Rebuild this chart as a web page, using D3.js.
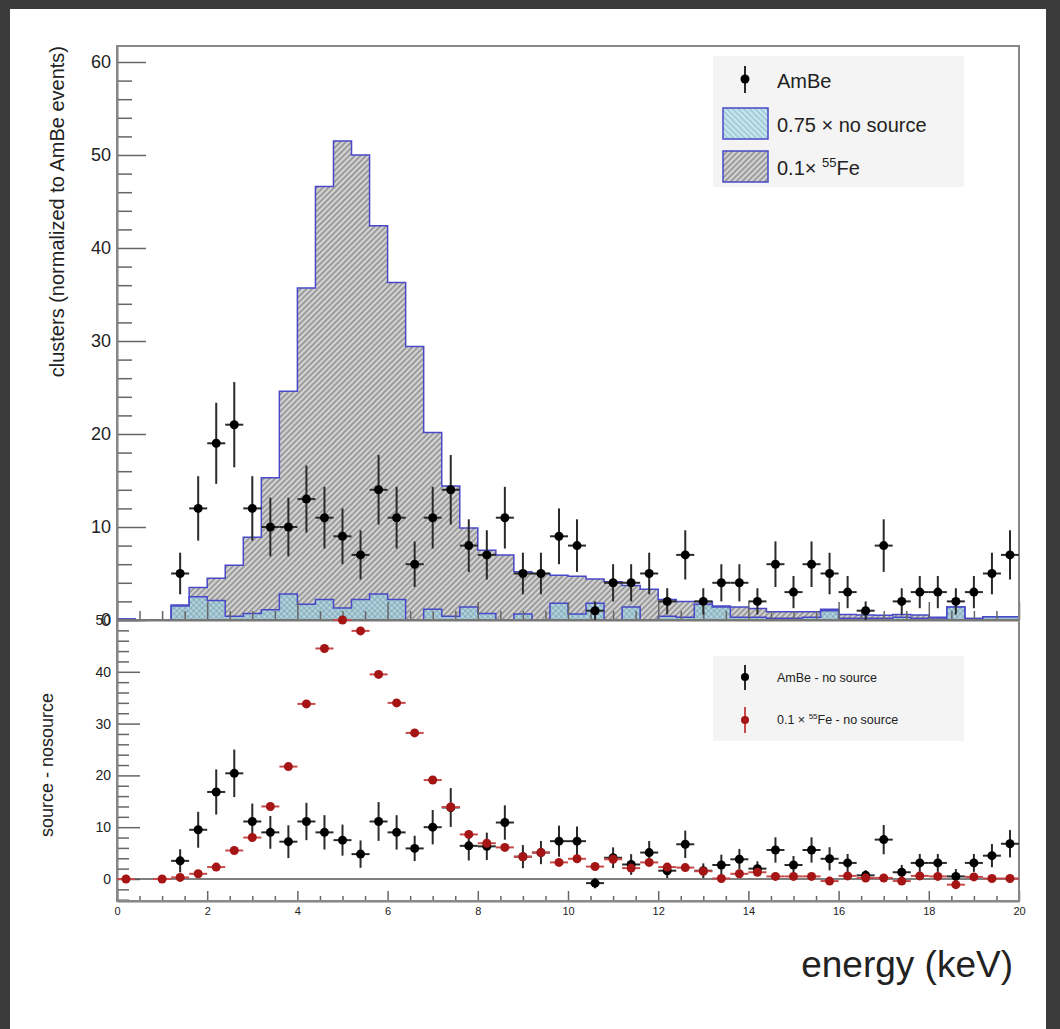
<!DOCTYPE html>
<html>
<head>
<meta charset="utf-8">
<script src="https://cdn.jsdelivr.net/npm/d3@7"></script>
<style>
  body { margin: 0; background: #3b3b3b; }
  svg { display: block; }
  text { font-family: "Liberation Sans", Arial, Helvetica, sans-serif; fill: #222; }
</style>
</head>
<body>
<svg id="drawing_region"></svg>
<script>
// energy histograms, 50 bins of 0.4 keV between 0 and 20 keV
const binWidth = 0.4;
const nBins = 50;

// 0.75 x no source
const noSource = [0.1, 0, 0, 1.5, 2.5, 2.1, 0.4, 0.7, 1.1, 2.8,
                  1.7, 2.2, 1.3, 2.2, 2.8, 2.2, 0, 1.15, 0.4, 1.4,
                  0.7, 0, 0.65, 0, 1.8, 0.65, 1.8, 0, 1.4, 0,
                  0.4, 0.3, 1.7, 1.4, 0.3, 0.3, 0.2, 0.2, 0.3, 1.0,
                  0.2, 0.2, 0.2, 0.3, 0.2, 0.1, 1.4, 0.15, 0.35, 0.35];
// 0.1 x 55Fe (stacked on top of no source)
const fe55 = [0, 0, 0, 0.1, 1.0, 2.4, 5.5, 8.2, 14.2, 21.8,
              34.0, 44.4, 50.2, 47.8, 39.6, 34.1, 29.4, 19.0, 14.0, 8.5,
              6.8, 7.0, 4.55, 5.0, 3.0, 4.05, 2.6, 4.1, 2.3, 3.3,
              1.8, 1.7, 0.3, 0.1, 1.1, 0.95, 0.7, 0.7, 0.6, 0.15,
              0.4, 0.35, 0.3, 0.3, 0.35, 0.2, 0, 0, 0, 0];

// AmBe data points (bin centres)
const ambeEnergy = [1.4, 1.8, 2.2, 2.6, 3.0, 3.4, 3.8, 4.2, 4.6, 5.0,
                    5.4, 5.8, 6.2, 6.6, 7.0, 7.4, 7.8, 8.2, 8.6, 9.0,
                    9.4, 9.8, 10.2, 10.6, 11.0, 11.4, 11.8, 12.2, 12.6, 13.0,
                    13.4, 13.8, 14.2, 14.6, 15.0, 15.4, 15.8, 16.2, 16.6, 17.0,
                    17.4, 17.8, 18.2, 18.6, 19.0, 19.4, 19.8];
const ambeCounts = [5, 12, 19, 21, 12, 10, 10, 13, 11, 9,
                    7, 14, 11, 6, 11, 14, 8, 7, 11, 5,
                    5, 9, 8, 1, 4, 4, 5, 2, 7, 2,
                    4, 4, 2, 6, 3, 6, 5, 3, 1, 8,
                    2, 3, 3, 2, 3, 5, 7];
// AmBe - no source
const ambeSub = [3.5, 9.5, 16.8, 20.4, 11.1, 9.0, 7.2, 11.1, 9.0, 7.5,
                 4.8, 11.1, 9.0, 5.9, 10.0, 13.8, 6.4, 6.3, 10.9, 4.3,
                 5.1, 7.3, 7.3, -0.8, 4.1, 2.8, 5.1, 1.6, 6.7, 1.6,
                 2.7, 3.8, 2.0, 5.6, 2.7, 5.6, 3.9, 3.1, 0.7, 7.6,
                 1.3, 3.1, 3.1, 0.5, 3.1, 4.5, 6.8];
// 0.1 x 55Fe - no source
const feEnergy = [0.2, 1.0, 1.4, 1.8, 2.2, 2.6, 3.0, 3.4, 3.8, 4.2,
                  4.6, 5.0, 5.4, 5.8, 6.2, 6.6, 7.0, 7.4, 7.8, 8.2,
                  8.6, 9.0, 9.4, 9.8, 10.2, 10.6, 11.0, 11.4, 11.8, 12.2,
                  12.6, 13.0, 13.4, 13.8, 14.2, 14.6, 15.0, 15.4, 15.8, 16.2,
                  16.6, 17.0, 17.4, 17.8, 18.2, 18.6, 19.0, 19.4, 19.8];
const feSub = [0, 0, 0.3, 1.0, 2.3, 5.5, 8.0, 14.0, 21.7, 33.8,
               44.5, 50.0, 47.9, 39.5, 34.0, 28.2, 19.1, 13.9, 8.6, 6.9,
               6.1, 4.3, 5.1, 3.2, 3.9, 2.4, 3.8, 2.1, 3.2, 2.3,
               2.2, 1.5, 0.1, 1.0, 1.3, 0.5, 0.5, 0.5, -0.4, 0.6,
               0.2, 0.2, -0.4, 0.6, 0.5, -1.1, 0.4, 0.1, 0.1];
const feSubErr = 0.6;

const xMajor = d3.range(0, 21, 2);
const xMinor = d3.range(0, 20.01, 0.5).filter(v => v % 2 !== 0);
const topMajor = [0, 10, 20, 30, 40, 50, 60];
const topMinor = d3.range(2, 61, 2).filter(v => v % 10 !== 0);
const botMajor = [0, 10, 20, 30, 40, 50];
const botMinor = d3.range(-4, 50, 2).filter(v => v % 10 !== 0);

const W = 1060, H = 1029;
const frameLeft = 117, frameRight = 1019, frameTop = 46, padSplit = 620, frameBottom = 901;

const svg = d3.select('#drawing_region')
    .attr('width', W)
    .attr('height', H);

svg.append('rect').attr('width', W).attr('height', H).attr('fill', '#3b3b3b');
svg.append('rect').attr('x', 10).attr('y', 9).attr('width', 1036).attr('height', H - 9).attr('fill', '#fff');

// hatch patterns
const defs = svg.append('defs');
const pGray = defs.append('pattern')
    .attr('id', 'hatch_gray')
    .attr('patternUnits', 'userSpaceOnUse')
    .attr('width', 4).attr('height', 4)
    .attr('patternTransform', 'rotate(45)');
pGray.append('rect').attr('width', 4).attr('height', 4).attr('fill', '#d4d4d4');
pGray.append('line').attr('x1', 1).attr('y1', 0).attr('x2', 1).attr('y2', 4)
    .attr('stroke', '#8a8a8a').attr('stroke-width', 1.5);

const pBlue = defs.append('pattern')
    .attr('id', 'hatch_blue')
    .attr('patternUnits', 'userSpaceOnUse')
    .attr('width', 4).attr('height', 4)
    .attr('patternTransform', 'rotate(-45)');
pBlue.append('rect').attr('width', 4).attr('height', 4).attr('fill', 'rgba(160,220,240,0.55)');
pBlue.append('line').attr('x1', 1).attr('y1', 0).attr('x2', 1).attr('y2', 4)
    .attr('stroke', 'rgba(90,140,155,0.5)').attr('stroke-width', 1.2);

// scales
const x = d3.scaleLinear().domain([0, 20]).range([frameLeft, frameRight]);
const yTop = d3.scaleLinear().domain([0, 61.72]).range([padSplit, frameTop]);
const yBot = d3.scaleLinear().domain([-4.25, 50]).range([frameBottom, padSplit]);

// ---- upper pad: stacked histograms ----
const stacked = noSource.map((v, i) => v + fe55[i]);
function steps(values) {
    const pts = values.map((v, i) => [i * binWidth, v]);
    pts.push([nBins * binWidth, values[values.length - 1]]);
    return pts;
}
const area = d3.area().curve(d3.curveStepAfter)
    .x(d => x(d[0])).y0(yTop(0)).y1(d => yTop(d[1]));
const line = d3.line().curve(d3.curveStepAfter)
    .x(d => x(d[0])).y(d => yTop(d[1]));

const histColor = '#4848c8';
svg.append('path').attr('d', area(steps(stacked))).attr('fill', 'url(#hatch_gray)');
svg.append('path').attr('d', line(steps(stacked))).attr('fill', 'none')
    .attr('stroke', histColor).attr('stroke-width', 1.5);
svg.append('path').attr('d', area(steps(noSource))).attr('fill', 'url(#hatch_blue)');
svg.append('path').attr('d', line(steps(noSource))).attr('fill', 'none')
    .attr('stroke', histColor).attr('stroke-width', 1.5);

// ---- axes ----
const axisColor = '#666';
function styleAxis(g, fontSize) {
    g.select('.domain').attr('stroke', axisColor).attr('stroke-width', 1.5);
    g.selectAll('.tick line').attr('stroke', axisColor).attr('stroke-width', 1.5);
    g.selectAll('.tick text').attr('fill', '#2a2a2a').attr('font-size', fontSize)
        .attr('font-family', '"Liberation Sans", Arial, sans-serif');
}

// upper pad x axis (no labels)
svg.append('g').attr('transform', `translate(0,${padSplit})`)
    .call(d3.axisBottom(x).tickValues(xMinor).tickSizeInner(-9).tickSizeOuter(0).tickFormat(''))
    .call(g => styleAxis(g, 0));
svg.append('g').attr('transform', `translate(0,${padSplit})`)
    .call(d3.axisBottom(x).tickValues(xMajor).tickSizeInner(-18).tickSizeOuter(0).tickFormat(''))
    .call(g => styleAxis(g, 0));

// upper pad y axis
svg.append('g').attr('transform', `translate(${frameLeft},0)`)
    .call(d3.axisLeft(yTop).tickValues(topMinor).tickSizeInner(-15).tickSizeOuter(0).tickFormat(''))
    .call(g => styleAxis(g, 0));
svg.append('g').attr('transform', `translate(${frameLeft},0)`)
    .call(d3.axisLeft(yTop).tickValues(topMajor).tickSizeInner(-29).tickSizeOuter(0).tickPadding(6))
    .call(g => styleAxis(g, 18));

// lower pad x axis
svg.append('g').attr('transform', `translate(0,${frameBottom})`)
    .call(d3.axisBottom(x).tickValues(xMinor).tickSizeInner(-5).tickSizeOuter(0).tickFormat(''))
    .call(g => styleAxis(g, 0));
svg.append('g').attr('transform', `translate(0,${frameBottom})`)
    .call(d3.axisBottom(x).tickValues(xMajor).tickSizeInner(-10).tickSizeOuter(0).tickPadding(6))
    .call(g => styleAxis(g, 11));

// lower pad y axis
svg.append('g').attr('transform', `translate(${frameLeft},0)`)
    .call(d3.axisLeft(yBot).tickValues(botMinor).tickSizeInner(-12).tickSizeOuter(0).tickFormat(''))
    .call(g => styleAxis(g, 0));
svg.append('g').attr('transform', `translate(${frameLeft},0)`)
    .call(d3.axisLeft(yBot).tickValues(botMajor).tickSizeInner(-23).tickSizeOuter(0).tickPadding(6))
    .call(g => styleAxis(g, 14));

// frame
svg.append('rect').attr('x', frameLeft).attr('y', frameTop)
    .attr('width', frameRight - frameLeft).attr('height', frameBottom - frameTop)
    .attr('fill', 'none').attr('stroke', '#888').attr('stroke-width', 2);
svg.append('line').attr('x1', frameLeft).attr('x2', frameRight)
    .attr('y1', padSplit).attr('y2', padSplit).attr('stroke', '#777').attr('stroke-width', 2);
// zero line of the lower pad
svg.append('line').attr('x1', frameLeft).attr('x2', frameRight)
    .attr('y1', yBot(0)).attr('y2', yBot(0)).attr('stroke', '#555').attr('stroke-width', 1.5);

// ---- data points ----
function drawPoints(g, pts, yScale, color, barColor) {
    const p = g.selectAll('g').data(pts).join('g');
    p.append('line')
        .attr('x1', d => x(d.e - binWidth / 2)).attr('x2', d => x(d.e + binWidth / 2))
        .attr('y1', d => yScale(d.v)).attr('y2', d => yScale(d.v))
        .attr('stroke', barColor).attr('stroke-width', 2);
    p.append('line')
        .attr('x1', d => x(d.e)).attr('x2', d => x(d.e))
        .attr('y1', d => yScale(d.v - d.err)).attr('y2', d => yScale(d.v + d.err))
        .attr('stroke', barColor).attr('stroke-width', 2);
    p.append('circle')
        .attr('cx', d => x(d.e)).attr('cy', d => yScale(d.v)).attr('r', 4.5)
        .attr('fill', color);
}

const ambeTop = ambeEnergy.map((e, i) => ({ e: e, v: ambeCounts[i], err: Math.sqrt(ambeCounts[i]) }));
const ambeBot = ambeEnergy.map((e, i) => ({ e: e, v: ambeSub[i], err: Math.sqrt(ambeCounts[i]) }));
const feBot = feEnergy.map((e, i) => ({ e: e, v: feSub[i], err: feSubErr }));

drawPoints(svg.append('g'), ambeTop, yTop, '#000', '#2a2a2a');
drawPoints(svg.append('g'), ambeBot, yBot, '#000', '#2a2a2a');
drawPoints(svg.append('g'), feBot, yBot, '#a51515', '#c84a4a');

// ---- axis titles ----
svg.append('text')
    .attr('transform', `translate(64,${frameTop}) rotate(-90)`)
    .attr('text-anchor', 'end')
    .attr('font-size', 20)
    .text('clusters (normalized to AmBe events)');
svg.append('text')
    .attr('transform', 'translate(53,765) rotate(-90)')
    .attr('text-anchor', 'middle')
    .attr('font-size', 18)
    .text('source - nosource');
svg.append('text')
    .attr('x', 1013).attr('y', 977)
    .attr('text-anchor', 'end')
    .attr('font-size', 37)
    .text('energy (keV)');

// ---- legends ----
const legTop = svg.append('g');
legTop.append('rect').attr('x', 713).attr('y', 56).attr('width', 251).attr('height', 131).attr('fill', '#f4f4f4');
legTop.append('line').attr('x1', 745).attr('x2', 745).attr('y1', 66).attr('y2', 93)
    .attr('stroke', '#2a2a2a').attr('stroke-width', 2);
legTop.append('circle').attr('cx', 745).attr('cy', 79).attr('r', 4.5).attr('fill', '#000');
legTop.append('text').attr('x', 777).attr('y', 88).attr('font-size', 20).text('AmBe');
legTop.append('rect').attr('x', 723).attr('y', 108).attr('width', 45).attr('height', 31)
    .attr('fill', 'url(#hatch_blue)').attr('stroke', histColor).attr('stroke-width', 1.5);
legTop.append('text').attr('x', 777).attr('y', 132).attr('font-size', 20).text('0.75 \u00d7 no source');
legTop.append('rect').attr('x', 723).attr('y', 151).attr('width', 45).attr('height', 31)
    .attr('fill', 'url(#hatch_gray)').attr('stroke', histColor).attr('stroke-width', 1.5);
const feLabel = legTop.append('text').attr('x', 777).attr('y', 175).attr('font-size', 20);
feLabel.append('tspan').text('0.1\u00d7 ');
feLabel.append('tspan').attr('font-size', 13).attr('dy', -8).text('55');
feLabel.append('tspan').attr('dy', 8).text('Fe');

const legBot = svg.append('g');
legBot.append('rect').attr('x', 713).attr('y', 656).attr('width', 251).attr('height', 85).attr('fill', '#f4f4f4');
legBot.append('line').attr('x1', 745).attr('x2', 745).attr('y1', 665).attr('y2', 690)
    .attr('stroke', '#2a2a2a').attr('stroke-width', 2);
legBot.append('circle').attr('cx', 745).attr('cy', 677).attr('r', 4).attr('fill', '#000');
legBot.append('text').attr('x', 777).attr('y', 682).attr('font-size', 12.5).text('AmBe - no source');
legBot.append('line').attr('x1', 745).attr('x2', 745).attr('y1', 707).attr('y2', 733)
    .attr('stroke', '#c84a4a').attr('stroke-width', 2);
legBot.append('circle').attr('cx', 745).attr('cy', 720).attr('r', 4).attr('fill', '#a51515');
const feSubLabel = legBot.append('text').attr('x', 777).attr('y', 724).attr('font-size', 12.5);
feSubLabel.append('tspan').text('0.1 \u00d7 ');
feSubLabel.append('tspan').attr('font-size', 8).attr('dy', -5).text('55');
feSubLabel.append('tspan').attr('dy', 5).text('Fe - no source');
</script>
</body>
</html>
